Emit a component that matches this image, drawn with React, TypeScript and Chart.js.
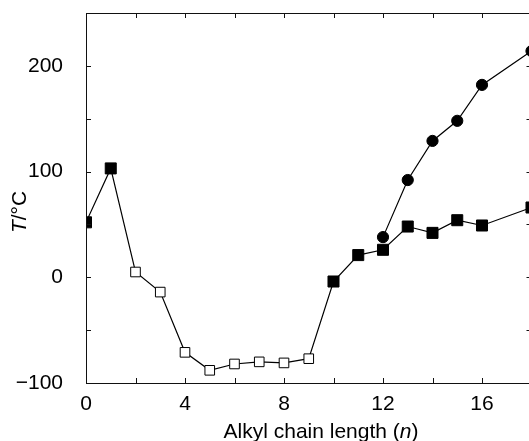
import React, { useEffect, useRef } from "react";
import { Chart, registerables } from "chart.js";

Chart.register(...registerables);

// Alkyl chain length n and transition temperatures (°C)
const squareN = [0, 1, 2, 3, 4, 5, 6, 7, 8, 9, 10, 11, 12, 13, 14, 15, 16, 18];
const squareT = [52, 103, 5, -14, -71, -88, -82, -80, -81, -77, -4, 21, 26, 48, 42, 54, 49, 66];
const squareOpen = [false, false, true, true, true, true, true, true, true, true, false, false, false, false, false, false, false, false];
const circleN = [12, 13, 14, 15, 16, 18];
const circleT = [38, 92, 129, 148, 182, 214];

const xTitleMain = "Alkyl chain length (";
const xTitleItalic = "n";
const xTitleEnd = ")";
const yTitleItalic = "T";
const yTitleRest = "/°C";

const FONT = "'Liberation Sans', Arial, Helvetica, sans-serif";

const framePlugin = {
  id: "frame",
  afterDraw(chart: any) {
    const { ctx, chartArea } = chart;
    const { left, right, top, bottom } = chartArea;
    const xs = chart.scales.x;
    const ys = chart.scales.y;
    ctx.save();
    ctx.strokeStyle = "#111";
    ctx.lineWidth = 1;
    ctx.beginPath();
    ctx.rect(Math.round(left) + 0.5, Math.round(top) + 0.5, Math.round(right - left), Math.round(bottom - top));
    ctx.stroke();
    const tl = 5;
    ctx.beginPath();
    xs.ticks.forEach((t: any) => {
      const px = Math.round(xs.getPixelForValue(t.value)) + 0.5;
      ctx.moveTo(px, bottom);
      ctx.lineTo(px, bottom - tl);
      ctx.moveTo(px, top);
      ctx.lineTo(px, top + tl);
    });
    ys.ticks.forEach((t: any) => {
      const py = Math.round(ys.getPixelForValue(t.value)) + 0.5;
      ctx.moveTo(left, py);
      ctx.lineTo(left + tl, py);
      ctx.moveTo(right, py);
      ctx.lineTo(right - tl, py);
    });
    ctx.stroke();

    // axis titles (mixed italic)
    ctx.fillStyle = "#000";
    ctx.textBaseline = "alphabetic";
    const normal = `21px ${FONT}`;
    const italic = `italic 21px ${FONT}`;
    ctx.font = normal;
    const w1 = ctx.measureText(xTitleMain).width;
    const w3 = ctx.measureText(xTitleEnd).width;
    ctx.font = italic;
    const w2 = ctx.measureText(xTitleItalic).width;
    const total = w1 + w2 + w3;
    const x0 = 321 - total / 2;
    const by = 437.5;
    ctx.font = normal;
    ctx.fillText(xTitleMain, x0, by);
    ctx.font = italic;
    ctx.fillText(xTitleItalic, x0 + w1, by);
    ctx.font = normal;
    ctx.fillText(xTitleEnd, x0 + w1 + w2, by);

    ctx.font = italic;
    const v1 = ctx.measureText(yTitleItalic).width;
    ctx.font = normal;
    const v2 = ctx.measureText(yTitleRest).width;
    ctx.translate(26, 212);
    ctx.rotate(-Math.PI / 2);
    const s = -(v1 + v2) / 2;
    ctx.font = italic;
    ctx.fillText(yTitleItalic, s, 0);
    ctx.font = normal;
    ctx.fillText(yTitleRest, s + v1, 0);
    ctx.restore();
  },
};

export default function App() {
  const ref = useRef<HTMLCanvasElement | null>(null);
  useEffect(() => {
    if (!ref.current) return;
    const chart = new Chart(ref.current, {
      type: "line",
      data: {
        datasets: [
          {
            label: "squares",
            data: squareN.map((n, i) => ({ x: n, y: squareT[i] })),
            borderColor: "#000",
            borderWidth: 1.2,
            pointStyle: "rect",
            pointRadius: squareOpen.map((o) => (o ? 6.8 : 7.8)),
            pointBackgroundColor: squareOpen.map((o) => (o ? "#fff" : "#000")),
            pointBorderColor: "#000",
            pointBorderWidth: 1,
            tension: 0,
            fill: false,
          },
          {
            label: "circles",
            data: circleN.map((n, i) => ({ x: n, y: circleT[i] })),
            borderColor: "#000",
            borderWidth: 1.2,
            pointStyle: "circle",
            pointRadius: 5.6,
            pointBackgroundColor: "#000",
            pointBorderColor: "#000",
            pointBorderWidth: 1,
            tension: 0,
            fill: false,
          },
        ],
      },
      options: {
        animation: false,
        responsive: false,
        maintainAspectRatio: false,
        layout: { padding: { top: 13, right: 13.5, left: 0, bottom: 0 } },
        plugins: { legend: { display: false }, tooltip: { enabled: false } },
        scales: {
          x: {
            type: "linear",
            min: 0,
            max: 18,
            grid: { display: false },
            border: { display: false },
            afterFit: (s: any) => {
              s.height = 58;
              s.paddingLeft = 0;
              s.paddingRight = 0;
            },
            ticks: {
              stepSize: 2,
              padding: 1,
              color: "#000",
              font: { family: FONT, size: 21 },
              maxRotation: 0,
              autoSkip: false,
              callback: (v: any) => (Number(v) % 4 === 0 ? String(v) : ""),
            },
          },
          y: {
            type: "linear",
            min: -100,
            max: 250,
            grid: { display: false },
            border: { display: false },
            afterFit: (s: any) => {
              s.width = 86;
              s.paddingTop = 0;
              s.paddingBottom = 0;
            },
            ticks: {
              stepSize: 50,
              padding: 15,
              color: "#000",
              font: { family: FONT, size: 21 },
              autoSkip: false,
              callback: (v: any) =>
                Number(v) % 100 === 0 ? String(v).replace("-", "\u2212") : "",
            },
          },
        },
      },
      plugins: [framePlugin],
    });
    return () => chart.destroy();
  }, []);
  return (
    <div style={{ position: "fixed", left: 0, top: 0, width: 529, height: 441, overflow: "hidden", background: "#fff" }}>
      <canvas ref={ref} width={545} height={441} style={{ display: "block" }} />
    </div>
  );
}
